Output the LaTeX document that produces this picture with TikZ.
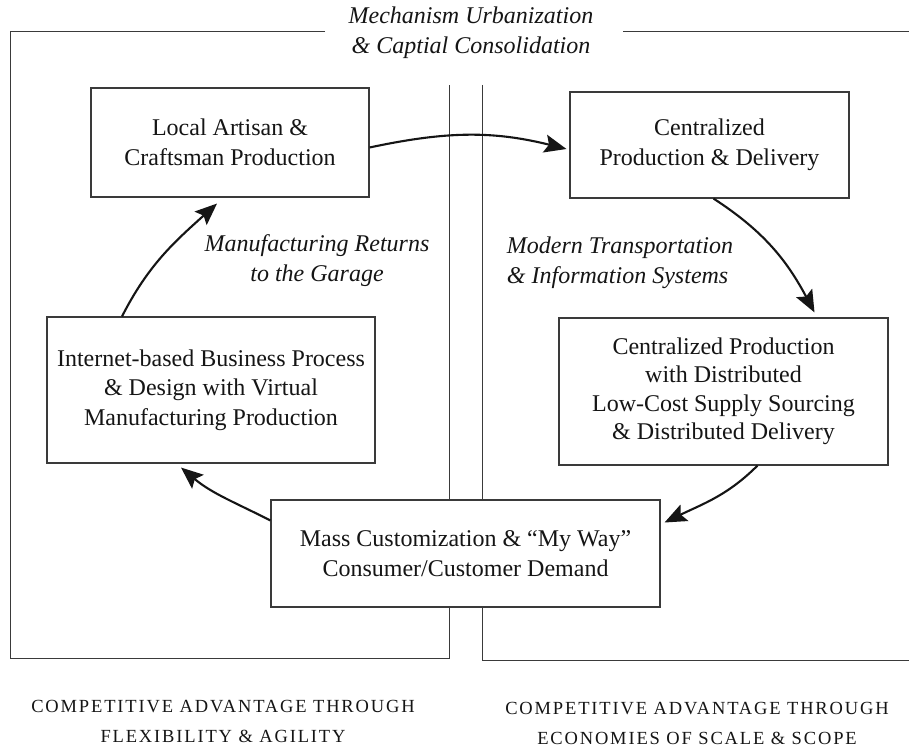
\documentclass[tikz,border=0pt]{standalone}
\usepackage{fontspec}
\setmainfont{Liberation Serif}
\usetikzlibrary{arrows.meta,calc}
\definecolor{ink}{HTML}{151515}
\definecolor{rulegray}{HTML}{3A3A3A}
\begin{document}
\begin{tikzpicture}[x=1pt,y=1pt,
  stage/.style={draw=rulegray, line width=1.1pt, fill=white, inner sep=0pt,
    align=center, text=ink, font=\fontsize{24}{29.5}\selectfont},
  flow/.style={draw=ink, line width=2.1pt,
    -{Stealth[length=22pt,width=18pt,inset=4pt]}},
  note/.style={font=\fontsize{24}{30}\selectfont\itshape, text=ink, align=center},
  panel/.style={draw=rulegray, line width=1pt},
  caption/.style={font=\fontsize{18.5}{30}\selectfont\addfontfeatures{LetterSpace=10},
    text=ink, align=center}]

% canvas
\fill[white] (0,0) rectangle (909,748);
\useasboundingbox (0,0) rectangle (909,748);

% the two panels
\draw[panel] (325,716) -- (10,716) -- (10,90) -- (449,90) -- (449,663);
\draw[panel] (623,716) -- (909,716);
\draw[panel] (482,663) -- (482,88) -- (909,88);

% heading over the gap in the top rule
\node[note] (title) at (471,715) {Mechanism Urbanization\\\& Captial Consolidation};

% stages of the cycle
\node[stage, minimum width=278pt, minimum height=109pt] (local) at (230,605.5)
  {Local Artisan \&\\Craftsman Production};
\node[stage, minimum width=279pt, minimum height=106pt] (central) at (709.5,603)
  {Centralized\\Production \& Delivery};
\node[stage, minimum width=328pt, minimum height=146pt] (inet) at (211,358)
  {Internet-based Business Process\\\& Design with Virtual\\Manufacturing Production};
\node[stage, minimum width=329pt, minimum height=147pt,
      font=\fontsize{24}{28.5}\selectfont] (distrib) at (723.5,356.5)
  {Centralized Production\\with Distributed\\Low-Cost Supply Sourcing\\\& Distributed Delivery};
\node[stage, minimum width=389pt, minimum height=107pt] (mass) at (465.5,194.5)
  {Mass Customization \& “My Way”\\Consumer/Customer Demand};

% italic notes
\node[note] (garage) at (317,487) {Manufacturing Returns\\to the Garage};
\node[note, align=left] (modern) at (620,485.5) {Modern Transportation\\\& Information Systems};

% captions under the panels
\node[caption] (flex) at (223,26.5) {COMPETITIVE ADVANTAGE THROUGH\\FLEXIBILITY \& AGILITY};
\node[caption] (scale) at (697,25) {COMPETITIVE ADVANTAGE THROUGH\\ECONOMIES OF SCALE \& SCOPE};

% the cycle
\draw[flow] ($(local.east)+(0,-5)$) to[out=12,in=166] ($(central.west)+(-3,-4)$);
\draw[flow] ($(central.south)+(4,0)$) to[out=-33,in=118] ($(distrib.north)+(91,5)$);
\draw[flow] ($(distrib.south)+(34,0)$) to[out=-135,in=26] ($(mass.east)+(4,31)$);
\draw[flow] ($(mass.west)+(0,33)$) to[out=153,in=-40] ($(inet.south)+(-30,-4)$);
\draw[flow] ($(inet.north)+(-89,0)$) to[out=63,in=222] ($(local.south)+(-13,-6)$);
\end{tikzpicture}
\end{document}
